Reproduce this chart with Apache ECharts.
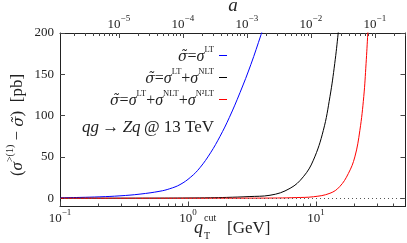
<!DOCTYPE html>
<html>
<head>
<meta charset="utf-8">
<script src="https://cdn.jsdelivr.net/npm/echarts@6/dist/echarts.min.js"></script>
<style>html,body{margin:0;padding:0;background:#fff;}#c{width:407px;height:243px;}</style>
</head>
<body>
<div id="c"></div>
<script>
// ---- data ----
const MZ = 91.1876;
const xMin = 0.1, xMax = 50;
const yMin = -10, yMax = 200;
const yTicks = [0, 50, 100, 150, 200];
const xMajor = [0.1, 1, 10];
const xMinor = [0.2,0.3,0.4,0.5,0.6,0.7,0.8,0.9,2,3,4,5,6,7,8,9,20,30,40];
const aMajor = [1e-5, 1e-4, 1e-3, 1e-2, 1e-1];
const aMinor = [2e-6,3e-6,4e-6,5e-6,6e-6,7e-6,8e-6,9e-6,
  2e-5,3e-5,4e-5,5e-5,6e-5,7e-5,8e-5,9e-5,
  2e-4,3e-4,4e-4,5e-4,6e-4,7e-4,8e-4,9e-4,
  2e-3,3e-3,4e-3,5e-3,6e-3,7e-3,8e-3,9e-3,
  2e-2,3e-2,4e-2,5e-2,6e-2,7e-2,8e-2,9e-2,2e-1,3e-1];

const qtLT   = [0.1, 0.143, 0.205, 0.294, 0.422, 0.604, 0.72, 0.866, 1.05, 1.24, 1.5, 1.78, 2.1, 2.55, 3.1, 3.72, 4.4];
const valLT  = [0.5, 1.0, 1.7, 2.9, 5.0, 8.5, 11.5, 16.5, 25.6, 37, 55, 75, 97.5, 128, 162, 198, 232];
const qtNLT  = [0.1, 0.5, 1, 1.5, 2, 3, 4.37, 6.27, 7.96, 9.53, 11.4, 12.85, 14.0, 14.9, 15.8];
const valNLT = [0, 0.1, 0.3, 0.6, 1.0, 2.0, 3.6, 12, 26, 46, 82, 123, 163, 200, 240];
const qtN2   = [0.1, 1, 3, 5, 7, 9.53, 12.85, 15.3, 17.9, 20.1, 22.0, 23.6, 24.6, 25.4, 26.5];
const valN2  = [0, 0, 0.1, 0.3, 0.8, 1.8, 6, 14, 30, 50, 82, 123, 163, 200, 245];

const zip = (xs, ys) => xs.map((x, i) => [x, ys[i]]);
const FONT = '"Liberation Serif", "DejaVu Serif", serif';
const TFONT = '"DejaVu Serif", serif';
const TXT = '#222';

const expFmt = v => {
  const e = Math.round(Math.log10(v));
  return '{b|10}{s|' + (e < 0 ? '\u2212' + (-e) : e) + '}';
};
const expRich = {
  b: {fontFamily: FONT, fontSize: 13, color: TXT, lineHeight: 17, verticalAlign: 'bottom'},
  s: {fontFamily: FONT, fontSize: 9, color: TXT, lineHeight: 9, verticalAlign: 'top'}
};

function legendRich() {
  return {
    s: {fontFamily: FONT, fontStyle: 'italic', fontSize: 16, fill: TXT, lineHeight: 19, verticalAlign: 'bottom'},
    t: {fontFamily: TFONT, fontStyle: 'italic', fontSize: 14, fill: TXT, lineHeight: 19, verticalAlign: 'bottom'},
    p: {fontFamily: FONT, fontSize: 16, fill: TXT, lineHeight: 19, verticalAlign: 'bottom'},
    sup: {fontFamily: FONT, fontSize: 8.5, fill: TXT, lineHeight: 10, verticalAlign: 'top'}
  };
}

const chart = echarts.init(document.getElementById('c'), null, {renderer: 'canvas'});
const grid = {left: 60, right: 1.5, top: 33, bottom: 36.5, containLabel: false, outerBoundsMode: 'none'};

const baseX = {
  type: 'log', logBase: 10, min: xMin, max: xMax, gridIndex: 0,
  splitLine: {show: false}
};
const baseA = {
  type: 'log', logBase: 10, min: Math.pow(xMin / MZ, 2), max: Math.pow(xMax / MZ, 2), gridIndex: 0,
  splitLine: {show: false}
};

const lineSeries = (name, data, color) => ({
  name, type: 'line', data, xAxisIndex: 0, yAxisIndex: 0,
  showSymbol: false, symbol: 'none', smooth: 0.4, clip: true,
  lineStyle: {color, width: 1}, itemStyle: {color}, silent: true, z: 3
});

chart.setOption({
  animation: false,
  backgroundColor: '#fff',
  grid,
  xAxis: [
    Object.assign({}, baseX, {
      position: 'bottom',
      axisLine: {show: true, onZero: false, lineStyle: {color: '#222', width: 1}},
      axisTick: {show: true, inside: true, length: 5, customValues: xMajor, lineStyle: {color: '#444'}},
      axisLabel: {show: true, customValues: xMajor, margin: 2, formatter: expFmt, rich: expRich}
    }),
    Object.assign({}, baseX, {
      position: 'bottom',
      axisLine: {show: false, onZero: false},
      axisTick: {show: true, inside: true, length: 3, customValues: xMinor, lineStyle: {color: '#444'}},
      axisLabel: {show: false}
    }),
    Object.assign({}, baseA, {
      position: 'top',
      axisLine: {show: true, onZero: false, lineStyle: {color: '#222', width: 1}},
      axisTick: {show: true, inside: true, length: 5, customValues: aMajor, lineStyle: {color: '#444'}},
      axisLabel: {show: true, customValues: aMajor, margin: 2, formatter: expFmt, rich: expRich}
    }),
    Object.assign({}, baseA, {
      position: 'top',
      axisLine: {show: false, onZero: false},
      axisTick: {show: true, inside: true, length: 3, customValues: aMinor, lineStyle: {color: '#444'}},
      axisLabel: {show: false}
    })
  ],
  yAxis: [
    {
      type: 'value', min: yMin, max: yMax, position: 'left', gridIndex: 0,
      splitLine: {show: false},
      axisLine: {show: true, onZero: false, lineStyle: {color: '#222', width: 1}},
      axisTick: {show: true, inside: true, length: 5, customValues: yTicks, lineStyle: {color: '#444'}},
      axisLabel: {show: true, customValues: yTicks, margin: 6, fontFamily: FONT, fontSize: 13, color: TXT}
    },
    {
      type: 'value', min: yMin, max: yMax, position: 'right', gridIndex: 0,
      splitLine: {show: false},
      axisLine: {show: true, onZero: false, lineStyle: {color: '#222', width: 1}},
      axisTick: {show: true, inside: true, length: 5, customValues: yTicks, lineStyle: {color: '#444'}},
      axisLabel: {show: false}
    }
  ],
  series: [
    Object.assign(lineSeries('LT', zip(qtLT, valLT), '#0000ff'), {
      markLine: {
        silent: true, symbol: 'none', label: {show: false},
        lineStyle: {color: '#555', type: [1, 3], width: 1},
        data: [{yAxis: 0}]
      }
    }),
    lineSeries('NLT', zip(qtNLT, valNLT), '#000000'),
    lineSeries('N2LT', zip(qtN2, valN2), '#ff0000')
  ],
  graphic: [
    // y-axis title
    {type: 'text', x: 16, y: 125, rotation: Math.PI / 2, style: {
      text: '{p|(}{s|\u03C3}{sup|>(1)}{p| \u2212 }{t|\u03C3\u0303}{p|)  [pb]}',
      align: 'center', verticalAlign: 'middle',
      rich: {
        p: {fontFamily: FONT, fontSize: 17, fill: TXT, lineHeight: 21, verticalAlign: 'bottom'},
        s: {fontFamily: FONT, fontStyle: 'italic', fontSize: 17, fill: TXT, lineHeight: 21, verticalAlign: 'bottom'},
        t: {fontFamily: TFONT, fontStyle: 'italic', fontSize: 15, fill: TXT, lineHeight: 21, verticalAlign: 'bottom'},
        sup: {fontFamily: FONT, fontSize: 10, fill: TXT, lineHeight: 11, verticalAlign: 'top'}
      }}},
    // x-axis title
    {type: 'text', x: 203, y: 228, style: {text: 'q', align: 'right', verticalAlign: 'middle',
      font: 'italic 18px ' + FONT, fill: TXT}},
    {type: 'text', x: 204, y: 218, style: {text: 'cut', align: 'left', verticalAlign: 'middle',
      font: '10px ' + FONT, fill: TXT}},
    {type: 'text', x: 204, y: 236, style: {text: 'T', align: 'left', verticalAlign: 'middle',
      font: '10px ' + FONT, fill: TXT}},
    {type: 'text', x: 227, y: 229, style: {text: '[GeV]', align: 'left', verticalAlign: 'middle',
      font: '17px ' + FONT, fill: TXT}},
    // top axis title
    {type: 'text', x: 233, y: 6, style: {text: 'a', align: 'center', verticalAlign: 'middle',
      font: 'italic 19px ' + FONT, fill: TXT}},
    // legend
    {type: 'text', x: 214, y: 55, style: {
      text: '{t|\u03C3\u0303}{p|=}{s|\u03C3}{sup|LT}',
      rich: legendRich(), align: 'right', verticalAlign: 'middle'}},
    {type: 'text', x: 214, y: 77, style: {
      text: '{t|\u03C3\u0303}{p|=}{s|\u03C3}{sup|LT}{p|+}{s|\u03C3}{sup|NLT}',
      rich: legendRich(), align: 'right', verticalAlign: 'middle'}},
    {type: 'text', x: 214, y: 99, style: {
      text: '{t|\u03C3\u0303}{p|=}{s|\u03C3}{sup|LT}{p|+}{s|\u03C3}{sup|NLT}{p|+}{s|\u03C3}{sup|N\u00B2LT}',
      rich: legendRich(), align: 'right', verticalAlign: 'middle'}},
    {type: 'line', shape: {x1: 219, y1: 55.5, x2: 227, y2: 55.5}, style: {stroke: '#0000ff', lineWidth: 1}},
    {type: 'line', shape: {x1: 219, y1: 77.5, x2: 227, y2: 77.5}, style: {stroke: '#000000', lineWidth: 1}},
    {type: 'line', shape: {x1: 219, y1: 99.5, x2: 227, y2: 99.5}, style: {stroke: '#ff0000', lineWidth: 1}},
    {type: 'text', x: 82, y: 128, style: {
      text: '{i|qg} {p|\u2192} {i|Zq} {p|@ 13 TeV}', verticalAlign: 'middle',
      rich: {
        i: {fontFamily: FONT, fontStyle: 'italic', fontSize: 17, fill: TXT},
        p: {fontFamily: FONT, fontSize: 17, fill: TXT}
      }}}
  ]
});
</script>
</body>
</html>
